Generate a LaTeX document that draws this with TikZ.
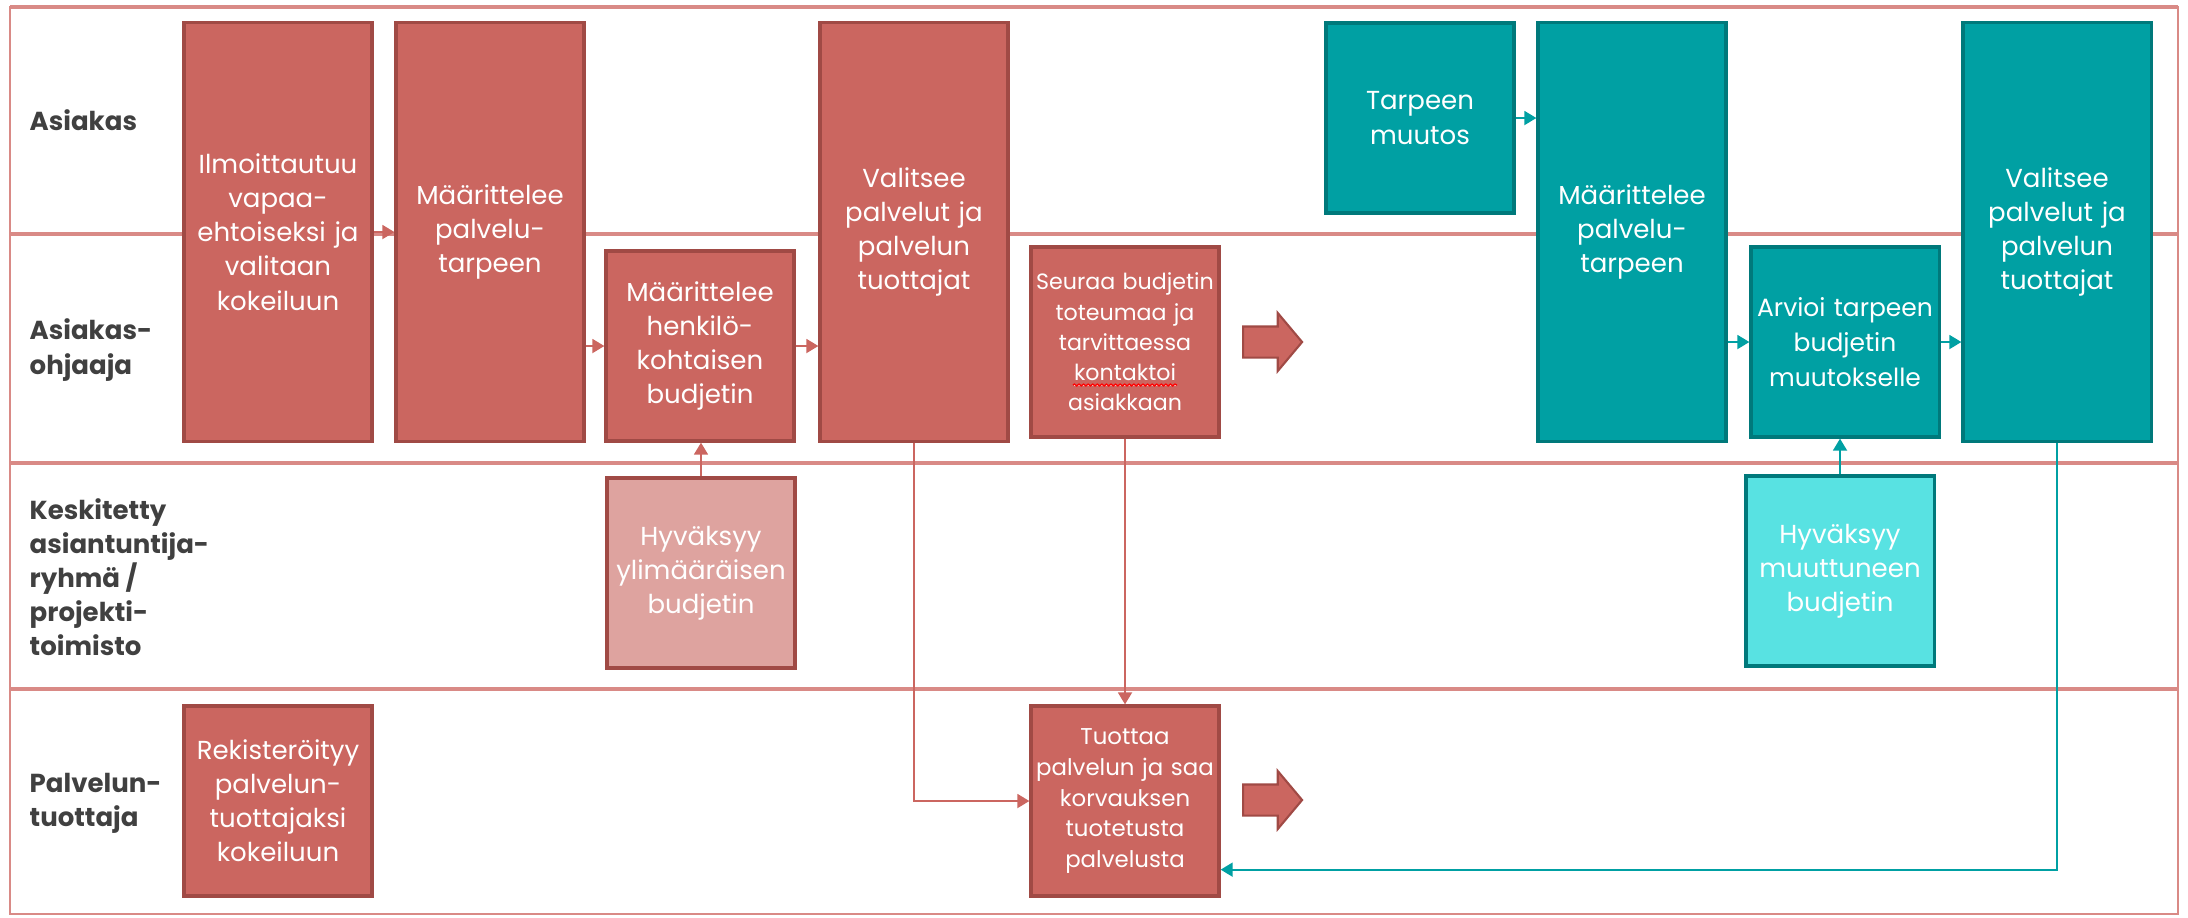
\documentclass[tikz,border=0pt]{standalone}
\usepackage{fontspec}
\setmainfont{Poppins}
\usetikzlibrary{arrows.meta,shapes.arrows,decorations.pathmorphing}

\definecolor{redfill}{HTML}{CB6660}
\definecolor{redline}{HTML}{A04A45}
\definecolor{pinkfill}{HTML}{DEA39F}
\definecolor{tealfill}{HTML}{00A0A3}
\definecolor{tealline}{HTML}{00797B}
\definecolor{cyanfill}{HTML}{58E2E2}
\definecolor{lanecol}{HTML}{D98A86}
\definecolor{labelcol}{HTML}{404040}

\begin{document}
\begin{tikzpicture}[x=0.01cm,y=-0.01cm,
	act/.style={draw=redline,fill=redfill,line width=0.9pt,text=white,align=center,
		text width=1.8cm,inner sep=0pt,minimum width=1.88cm,font=\fontsize{7.4}{9.7}\selectfont},
	acthigh/.style={act,minimum height=4.18cm},
	actlow/.style={act,minimum height=1.9cm},
	teal/.style={draw=tealline,fill=tealfill},
	lane/.style={draw=lanecol,line width=1pt},
	lbl/.style={anchor=west,align=left,inner sep=0pt,text=labelcol,
		font=\bfseries\fontsize{7.4}{9.7}\selectfont},
	flow/.style={draw=redfill,line width=0.5pt,-{Triangle[length=0.12cm,width=0.14cm]}},
	tflow/.style={flow,draw=tealfill},
	bigarrow/.style={single arrow,draw=redline,fill=redfill,line width=0.6pt,anchor=tail,
		inner sep=0pt,inner ysep=0.145cm,minimum height=0.59cm,minimum width=0.56cm,
		single arrow head extend=0.135cm,single arrow tip angle=100},
	spell/.style={draw=red,line width=0.4pt,decorate,
		decoration={snake,amplitude=0.25pt,segment length=1.3pt}}
]
	\useasboundingbox (0,0) rectangle (2188,917);
	\draw[draw=lanecol,line width=0.6pt] (10,7) rectangle (2178,914);
	\draw[lane] (10,7) -- (2178,7);
	\draw[lane] (10,234) -- (2178,234);
	\draw[lane] (10,463) -- (2178,463);
	\draw[lane] (10,689) -- (2178,689);

	\node[lbl] (lasiakas) at (29,120) {Asiakas};
	\node[lbl] (lohjaaja) at (29,350) {Asiakas-\\ohjaaja};
	\node[lbl] (lryhma) at (29,577) {Keskitetty\\asiantuntija-\\ryhmä /\\projekti-\\toimisto};
	\node[lbl] (ltuottaja) at (29,803) {Palvelun-\\tuottaja};

	\node[acthigh] (ilmo) at (278,232) {Ilmoittautuu\\vapaa-\\ehtoiseksi ja\\valitaan\\kokeiluun};
	\node[acthigh] (maar) at (490,232) {Määrittelee\\palvelu-\\tarpeen};
	\node[actlow] (budj) at (700,346) {Määrittelee\\henkilö-\\kohtaisen\\budjetin};
	\node[acthigh] (valit) at (914,232) {Valitsee\\palvelut ja\\palvelun\\tuottajat};
	\node[actlow,font=\fontsize{6.3}{8.6}\selectfont] (seuraa) at (1125,342)
		{Seuraa budjetin\\toteumaa ja\\tarvittaessa\\\underline{kontaktoi}\\asiakkaan};
	\node[actlow,fill=pinkfill] (hyvy) at (701,573) {Hyväksyy\\ylimääräisen\\budjetin};
	\node[actlow] (rekis) at (278,801) {Rekisteröityy\\palvelun-\\tuottajaksi\\kokeiluun};
	\node[actlow,font=\fontsize{6.5}{8.8}\selectfont] (tuottaa) at (1125,801)
		{Tuottaa\\palvelun ja saa\\korvauksen\\tuotetusta\\palvelusta};
	\draw[spell] ([shift={(-52,43)}]seuraa.center) -- ([shift={(52,43)}]seuraa.center);

	\node[actlow,teal] (tarve) at (1420,118) {Tarpeen\\muutos};
	\node[acthigh,teal] (maar2) at (1632,232) {Määrittelee\\palvelu-\\tarpeen};
	\node[actlow,teal,text width=1.88cm,font=\fontsize{7.1}{9.9}\selectfont] (arvio) at (1845,342)
		{Arvioi tarpeen\\budjetin\\muutokselle};
	\node[acthigh,teal] (valit2) at (2057,232) {Valitsee\\palvelut ja\\palvelun\\tuottajat};
	\node[actlow,teal,fill=cyanfill] (hyvm) at (1840,571) {Hyväksyy\\muuttuneen\\budjetin};

	\node[bigarrow] (go1) at (1242,342) {};
	\node[bigarrow] (go2) at (1242,800) {};

	\draw[flow] (ilmo.east) -- (maar.west);
	\draw[flow] (maar.east |- budj.west) -- (budj.west);
	\draw[flow] (budj.east) -- (valit.west |- budj.east);
	\draw[flow] (hyvy.north) -- (hyvy.north |- budj.south);
	\draw[flow] (valit.south) |- (tuottaa.west);
	\draw[flow] (seuraa.south) -- (tuottaa.north);

	\draw[tflow] (tarve.east) -- (maar2.west |- tarve.east);
	\draw[tflow] (maar2.east |- arvio.west) -- (arvio.west);
	\draw[tflow] (arvio.east) -- (valit2.west |- arvio.east);
	\draw[tflow] (hyvm.north) -- (hyvm.north |- arvio.south);
	\coordinate (paluu) at ([yshift=0.28cm]tuottaa.south east);
	\draw[tflow] (valit2.south) |- (paluu);
\end{tikzpicture}
\end{document}
